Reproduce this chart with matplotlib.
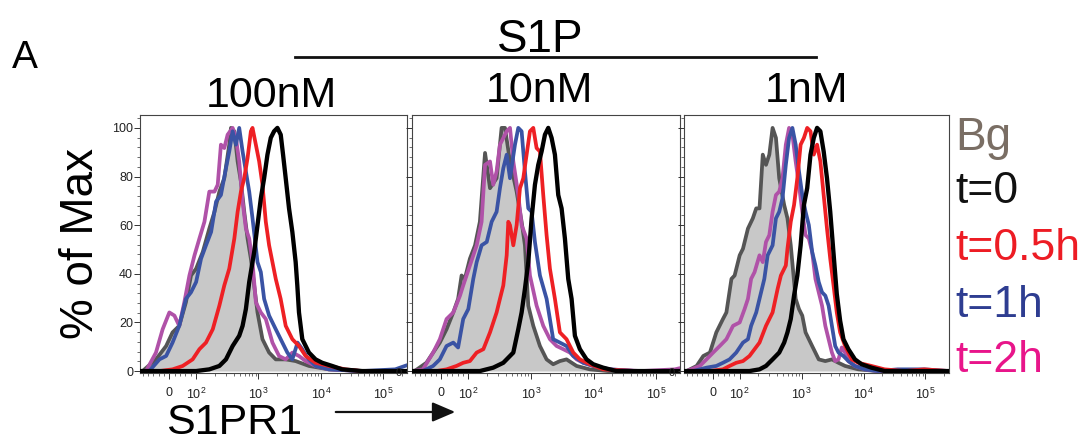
import matplotlib
matplotlib.use('Agg')
import matplotlib.pyplot as plt
from matplotlib.ticker import FixedLocator, FixedFormatter, NullFormatter, MultipleLocator
from matplotlib.lines import Line2D
from matplotlib.patches import FancyArrowPatch

plt.rcParams['font.family'] = ['Liberation Sans', 'DejaVu Sans']
plt.rcParams['mathtext.fontset'] = 'custom'
plt.rcParams['mathtext.rm'] = 'Liberation Sans'
plt.rcParams['mathtext.it'] = 'Liberation Sans:italic'
plt.rcParams['mathtext.bf'] = 'Liberation Sans:bold'

# ---------------- data ----------------
concentrations = ['100nM', '10nM', '1nM']
series_labels = ['Bg', 't=0', 't=0.5h', 't=1h', 't=2h']

# Panel 100nM
p100_bg_x = [-100, -50, -12, 12, 37, 62, 81, 100, 128, 163, 197, 236, 283, 340, 362, 410, 463, 523, 591, 668, 755, 853, 964, 1158, 1480, 1891, 2730, 3942, 6435, 13400, 45700, 240000]
p100_bg_y = [0, 4.8, 10.3, 15.9, 18.6, 28.3, 39.3, 42.1, 49.0, 58.6, 65.5, 73.8, 79.3, 93.1, 100, 98.6, 86.2, 77.9, 65.5, 54.5, 46.2, 35.2, 24.1, 13.1, 7.6, 4.8, 4.8, 4.1, 2.1, 0.7, 0, 0]
p100_t0_x = [-110, 37, 100, 163, 236, 301, 385, 491, 556, 628, 710, 853, 964, 1090, 1231, 1392, 1573, 1778, 2010, 2272, 2476, 2730, 3086, 3488, 3942, 4190, 4456, 5036, 6435, 8220, 10500, 15150, 21900, 45700, 240000]
p100_t0_y = [0, 0, 0, 0.7, 2.1, 4.8, 10.3, 14.5, 18.6, 25.5, 36.6, 49.0, 60.0, 71.0, 79.3, 89.0, 95.9, 98.6, 100, 97.2, 89.0, 79.3, 66.9, 57.2, 44.8, 35.2, 24.1, 13.1, 7.6, 4.8, 3.4, 2.1, 0.7, 0, 0]
p100_t05_x = [-37, 12, 50, 87, 113, 144, 185, 236, 283, 340, 410, 463, 523, 591, 668, 755, 802, 907, 1025, 1158, 1309, 1480, 1673, 1891, 2265, 2730, 3488, 4456, 5692, 8220, 13400, 24700, 45700, 240000]
p100_t05_y = [0, 0.7, 2.1, 4.8, 9.0, 11.7, 17.2, 26.9, 35.2, 42.1, 54.5, 65.5, 73.8, 79.3, 87.6, 98.6, 100, 93.1, 86.2, 76.6, 61.4, 51.7, 44.8, 37.9, 29.7, 18.6, 13.1, 10.3, 6.2, 3.4, 2.1, 0.7, 0, 0]
p100_t1_x = [-75, -37, -12, 12, 37, 62, 81, 100, 120, 144, 174, 209, 250, 301, 340, 385, 435, 491, 556, 628, 710, 802, 964, 1090, 1231, 1480, 1891, 2415, 2900, 3488, 4230, 5036, 6050, 8220, 13400, 45700, 155300, 240000]
p100_t1_y = [0, 4.8, 6.2, 11.7, 18.6, 29.7, 32.4, 36.6, 46.2, 51.7, 57.2, 69.7, 72.4, 83.4, 90.3, 98.6, 93.1, 100, 90.3, 82.1, 73.8, 62.8, 44.8, 40.7, 29.7, 22.8, 17.2, 11.7, 7.6, 4.8, 11.7, 9.0, 5.5, 2.1, 0.7, 0, 0.7, 2.4]
p100_t2_x = [-87, -50, -25, 0, 19, 37, 56, 75, 94, 113, 136, 163, 197, 222, 250, 283, 320, 385, 435, 491, 556, 628, 710, 802, 907, 1090, 1309, 1673, 2137, 2730, 3488, 4456, 5692, 8220, 13400, 45700, 240000]
p100_t2_y = [0, 7.6, 17.2, 24.1, 22.8, 18.6, 28.3, 39.3, 47.6, 54.5, 61.4, 73.8, 73.8, 76.6, 93.1, 91.7, 97.2, 100, 95.9, 86.2, 69.7, 58.6, 54.5, 44.8, 28.3, 24.1, 21.4, 11.7, 6.2, 4.8, 7.6, 6.2, 4.1, 2.1, 0.7, 0, 0]

# Panel 10nM
p10_bg_x = [-100, -56, -31, -6, 19, 44, 62, 75, 87, 106, 128, 153, 185, 222, 283, 340, 385, 463, 591, 710, 802, 907, 1090, 1392, 1778, 2265, 2900, 3700, 5360, 8700, 17000, 240000]
p10_bg_y = [0, 3.4, 7.6, 11.7, 17.2, 24.1, 29.7, 39.3, 37.9, 46.2, 51.7, 61.4, 89.7, 75.2, 79.3, 100, 100, 86.2, 73.8, 61.4, 51.7, 26.9, 18.6, 10.3, 4.8, 2.8, 4.1, 4.8, 2.1, 0.7, 0, 0]
p10_t0_x = [-110, 44, 153, 250, 362, 523, 628, 710, 802, 907, 1025, 1158, 1309, 1480, 1673, 1891, 2137, 2415, 2730, 3086, 3488, 3942, 4456, 5036, 6050, 7730, 9880, 14200, 23200, 240000]
p10_t0_y = [0, 0, 0, 1.4, 3.4, 7.6, 17.2, 24.1, 33.8, 44.8, 62.8, 76.6, 84.8, 90.3, 97.2, 100, 95.9, 89.0, 72.4, 66.9, 54.5, 37.9, 29.7, 14.5, 9.0, 4.8, 2.8, 1.4, 0, 0]
p10_t05_x = [-19, 19, 56, 81, 106, 136, 174, 222, 283, 320, 362, 410, 435, 463, 523, 591, 668, 755, 853, 964, 1090, 1231, 1392, 1573, 1778, 2010, 2415, 2900, 3700, 4740, 6050, 8700, 14200, 48500, 240000]
p10_t05_y = [0, 0.7, 2.1, 3.4, 4.1, 7.6, 9.0, 15.9, 24.1, 29.7, 35.2, 47.6, 61.4, 60.0, 51.7, 60.0, 75.2, 79.3, 89.0, 98.6, 100, 91.7, 90.3, 72.4, 55.9, 42.1, 29.7, 15.9, 13.1, 7.6, 4.8, 2.8, 0.7, 0, 0]
p10_t1_x = [-69, -31, -6, 19, 44, 62, 81, 100, 120, 136, 163, 197, 236, 283, 320, 362, 410, 463, 556, 628, 710, 802, 907, 1025, 1158, 1392, 1778, 2265, 2900, 3700, 4740, 6840, 9880, 18200, 48500, 240000]
p10_t1_y = [0, 2.1, 4.8, 10.3, 11.7, 9.7, 21.4, 25.5, 37.9, 44.8, 51.7, 53.1, 61.4, 65.5, 75.2, 83.4, 89.0, 79.3, 93.1, 100, 98.6, 82.1, 66.9, 65.5, 53.1, 39.3, 29.7, 13.1, 11.7, 10.3, 6.2, 3.4, 2.1, 0.7, 0, 0]
p10_t2_x = [-106, -69, -31, -6, 19, 44, 69, 81, 106, 136, 163, 185, 222, 250, 283, 320, 410, 463, 523, 628, 710, 853, 964, 1231, 1573, 2010, 2570, 3280, 4190, 5360, 6840, 9880, 17000, 58000, 198600, 240000]
p10_t2_y = [0, 0.7, 7.6, 13.1, 21.4, 24.1, 31.0, 35.2, 43.4, 51.7, 61.4, 84.8, 86.2, 76.6, 82.1, 93.1, 98.6, 100, 86.2, 72.4, 60.0, 54.5, 39.3, 26.9, 18.6, 13.1, 10.3, 9.0, 7.6, 4.8, 3.4, 2.1, 0.7, 0, 0.7, 1.2]

# Panel 1nM
p1_bg_x = [-100, -62, -37, -12, 12, 37, 50, 69, 81, 100, 113, 136, 163, 185, 209, 236, 266, 301, 340, 385, 435, 523, 591, 668, 802, 907, 1025, 1158, 1480, 1891, 2415, 3086, 3942, 5036, 8220, 17000, 240000]
p1_bg_y = [0, 2.1, 6.2, 7.6, 15.9, 21.4, 24.1, 37.9, 39.3, 47.6, 50.3, 58.6, 62.8, 66.9, 66.9, 89.0, 84.8, 89.0, 100, 95.9, 79.3, 68.3, 62.8, 51.7, 29.7, 25.5, 22.8, 15.9, 10.3, 4.8, 4.1, 4.8, 3.4, 2.1, 0.7, 0, 0]
p1_t0_x = [-110, 37, 144, 209, 266, 340, 435, 523, 591, 668, 755, 853, 964, 1090, 1231, 1392, 1573, 1778, 2010, 2272, 2570, 2900, 3280, 3700, 4190, 4740, 5692, 7270, 9300, 13400, 21900, 240000]
p1_t0_y = [0, 0, 0, 0.7, 2.1, 4.8, 7.6, 11.7, 15.9, 21.4, 31.0, 39.3, 51.7, 68.3, 75.2, 89.0, 95.9, 100, 98.6, 90.3, 79.3, 65.5, 48.3, 31.7, 20.7, 13.1, 9.0, 4.8, 2.8, 1.4, 0, 0]
p1_t05_x = [-12, 37, 62, 87, 113, 144, 174, 209, 266, 340, 410, 463, 556, 591, 668, 755, 853, 964, 1090, 1231, 1392, 1573, 1778, 2010, 2272, 2570, 2900, 3280, 3700, 4190, 5036, 6435, 8220, 13400, 21900, 45700, 95600, 240000]
p1_t05_y = [0, 0.7, 2.1, 3.4, 4.1, 6.2, 9.0, 11.7, 18.6, 24.1, 33.8, 39.3, 43.4, 50.3, 61.4, 68.3, 79.3, 93.1, 95.9, 100, 98.6, 89.0, 93.1, 86.2, 72.4, 58.6, 46.2, 35.2, 24.1, 15.9, 10.3, 4.8, 3.4, 2.1, 0.7, 0, 0.7, 0]
p1_t1_x = [-75, -25, 12, 37, 62, 87, 113, 136, 153, 185, 209, 250, 283, 340, 385, 435, 491, 556, 628, 710, 802, 907, 1025, 1158, 1309, 1480, 1673, 1891, 2137, 2415, 2730, 3086, 3488, 3942, 4730, 5692, 7270, 10500, 17000, 35700, 95600, 240000]
p1_t1_y = [0, 1.4, 2.1, 3.4, 4.8, 7.6, 11.7, 13.1, 18.6, 24.1, 29.7, 37.9, 47.6, 51.7, 62.8, 65.5, 71.0, 84.8, 95.9, 100, 93.1, 82.1, 72.4, 65.5, 60.0, 49.0, 43.4, 36.6, 32.4, 31.0, 26.9, 18.6, 10.3, 7.6, 6.2, 4.1, 2.1, 0.7, 0, 0.7, 0.7, 0]
p1_t2_x = [-100, -50, -25, 0, 25, 50, 75, 100, 120, 136, 153, 174, 209, 236, 266, 301, 340, 385, 435, 491, 556, 628, 710, 802, 907, 1025, 1158, 1309, 1480, 1673, 1891, 2137, 2415, 2730, 3086, 3488, 3942, 4456, 5036, 5692, 7270, 10500, 17000, 240000]
p1_t2_y = [0, 2.1, 4.8, 7.6, 10.3, 13.1, 18.6, 20.0, 25.5, 29.7, 37.9, 40.7, 47.6, 44.8, 53.1, 55.9, 65.5, 72.4, 73.8, 79.3, 93.1, 100, 97.2, 86.2, 76.6, 65.5, 55.9, 54.5, 49.0, 37.9, 32.4, 26.9, 18.6, 13.1, 7.6, 4.1, 4.8, 9.7, 7.6, 4.1, 2.1, 0.7, 0, 0]

panels = [
    (p100_bg_x, p100_bg_y, p100_t0_x, p100_t0_y, p100_t05_x, p100_t05_y, p100_t1_x, p100_t1_y, p100_t2_x, p100_t2_y),
    (p10_bg_x, p10_bg_y, p10_t0_x, p10_t0_y, p10_t05_x, p10_t05_y, p10_t1_x, p10_t1_y, p10_t2_x, p10_t2_y),
    (p1_bg_x, p1_bg_y, p1_t0_x, p1_t0_y, p1_t05_x, p1_t05_y, p1_t1_x, p1_t1_y, p1_t2_x, p1_t2_y),
]

x_major = [0, 100, 1000, 10000, 100000]
x_major_labels = ['0', r'$\mathregular{10^2}$', r'$\mathregular{10^3}$', r'$\mathregular{10^4}$', r'$\mathregular{10^5}$']
y_major = [0, 20, 40, 60, 80, 100]

# ---------------- style ----------------
W, H = 1086, 442
c_bg_fill = '#c8c8c8'
c_bg_line = '#555555'
c_t0 = '#000000'
c_t05 = '#ee2024'
c_t1 = '#3a53a4'
c_t2 = '#b052a8'
legend_colors = ['#7a6e64', '#111111', '#ed1c24', '#2e3d91', '#e8158a']
lw = 2.7

fig = plt.figure(figsize=(W / 100, H / 100), dpi=100)

rects_px = [(140, 115, 267, 258), (412, 115, 268, 258), (684, 115, 265, 258)]

x_minor = ([-100, -80, -60, -40, -20, 20, 40, 60, 80] +
           [m * 10 ** e for e in (2, 3, 4) for m in range(2, 10)] + [200000])

for i, (rect, data) in enumerate(zip(rects_px, panels)):
    l, t, w, h = rect
    ax = fig.add_axes([l / W, (H - t - h) / H, w / W, h / H])
    ax.set_xscale('symlog', linthresh=100, linscale=0.386)
    bx, by, x0, y0, x05, y05, x1, y1, x2, y2 = data
    kw = dict(lw=lw, solid_joinstyle='round', solid_capstyle='round')
    ax.fill_between(bx, by, 0, color=c_bg_fill, lw=0, zorder=1)
    ax.plot(bx, by, color=c_bg_line, zorder=2, **kw)
    ax.plot(x2, y2, color=c_t2, zorder=3, **kw)
    ax.plot(x1, y1, color=c_t1, zorder=4, **kw)
    ax.plot(x05, y05, color=c_t05, zorder=5, **kw)
    ax.plot(x0, y0, color=c_t0, zorder=6, lw=lw + 0.4, solid_joinstyle='round')
    ax.set_xlim(-110, 240000)
    ax.set_ylim(-0.8, 105.3)

    ax.xaxis.set_major_locator(FixedLocator(x_major))
    ax.xaxis.set_major_formatter(FixedFormatter(x_major_labels))
    ax.xaxis.set_minor_locator(FixedLocator(x_minor))
    ax.xaxis.set_minor_formatter(NullFormatter())
    ax.yaxis.set_major_locator(FixedLocator(y_major))
    ax.yaxis.set_minor_locator(MultipleLocator(4))
    if i > 0:
        ax.set_yticklabels([])
    ax.tick_params(axis='both', which='major', direction='out', length=4, width=0.7,
                   colors='#333333', labelsize=9, labelcolor='#222222')
    ax.tick_params(axis='both', which='minor', direction='out', length=2, width=0.5, colors='#333333')
    ax.tick_params(axis='x', which='major', pad=6)
    ax.tick_params(axis='y', which='major', pad=1)
    for s in ax.spines.values():
        s.set_color('#444444')
        s.set_linewidth(0.8)
    if i < 2:
        ax.text(0.97, 0.0, '0', transform=ax.transAxes, fontsize=8, ha='center',
                va='center', color='#222222', clip_on=False, zorder=10)

# ---------------- annotations ----------------
fig.text(25 / W, (H - 68) / H, 'A', fontsize=28, ha='center', va='baseline')
fig.text(540 / W, (H - 52) / H, 'S1P', fontsize=33, ha='center', va='baseline')
fig.add_artist(Line2D([295 / W, 816 / W], [(H - 57) / H] * 2, color='#111111', lw=2.0))
fig.text(271 / W, (H - 107) / H, concentrations[0], fontsize=31, ha='center', va='baseline')
fig.text(539 / W, (H - 102) / H, concentrations[1], fontsize=31, ha='center', va='baseline')
fig.text(806 / W, (H - 102) / H, concentrations[2], fontsize=31, ha='center', va='baseline')

fig.text(81 / W, (H - 243) / H, '% of Max', fontsize=33, rotation=90, ha='center', va='center')
fig.text(166 / W, (H - 434) / H, 'S1PR1', fontsize=31, ha='left', va='baseline')
fig.add_artist(FancyArrowPatch((333 / W, (H - 412) / H), (458 / W, (H - 412) / H),
               transform=fig.transFigure, arrowstyle='-|>,head_length=14,head_width=6',
               color='#111111', lw=1.6, mutation_scale=1))

leg_base = [150, 203, 260, 317, 372]
for lab, col, yb in zip(series_labels, legend_colors, leg_base):
    fig.text(955 / W, (H - yb) / H, lab, fontsize=32 if lab != 'Bg' else 33, color=col,
             ha='left', va='baseline')

fig.savefig('out.png', dpi=100)
